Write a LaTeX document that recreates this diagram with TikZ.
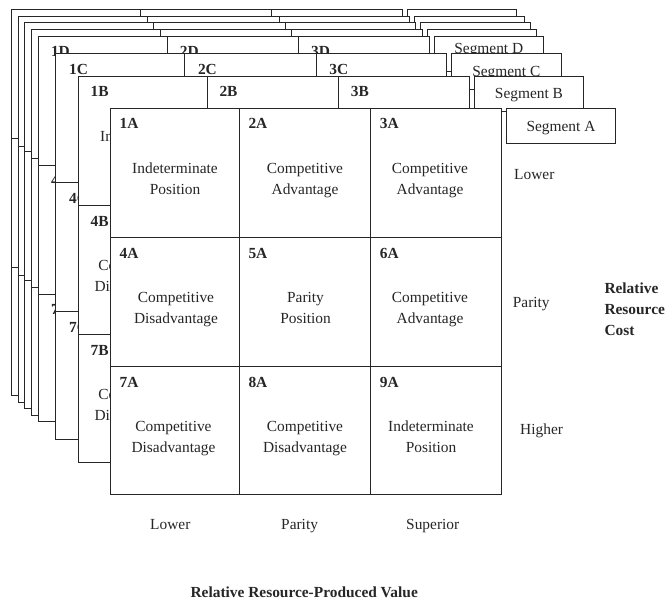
\documentclass[tikz,border=0pt]{standalone}
\usepackage{fontspec}
\setmainfont{Liberation Serif}
\usetikzlibrary{positioning}
\definecolor{sheetInk}{RGB}{38,38,38}
\newcommand{\sheetfont}{\fontsize{15.4}{21}\selectfont}
\tikzset{
  sheetline/.style={draw=sheetInk, line width=1pt},
  celltag/.style={font=\sheetfont\bfseries, text=sheetInk, anchor=base west, inner sep=0pt},
  celltext/.style={font=\sheetfont, text=sheetInk, align=center, anchor=base, inner sep=0pt},
  segtext/.style={font=\sheetfont, text=sheetInk, anchor=base, inner sep=0pt},
  axislabel/.style={font=\sheetfont, text=sheetInk, anchor=base west, inner sep=0pt},
  axistitle/.style={font=\sheetfont\bfseries, text=sheetInk, align=left, anchor=base west, inner sep=0pt}
}

\begin{document}
\begin{tikzpicture}[x=1pt, y=-1pt]
\useasboundingbox (0,0) rectangle (665,599);
% blank sheets at the back of the stack
\foreach \d in {98.8,91.6,85.7,79}
{
\begin{scope}[shift={(-\d,-\d)}]
\filldraw[sheetline, fill=white] (506.3,108.3) rectangle (615.7,144);
\filldraw[sheetline, fill=white] (110.5,108.3) rectangle (501.5,494);
\draw[sheetline] (239.3,108.3) -- (239.3,494) (370.7,108.3) -- (370.7,494)
  (110.5,237.7) -- (501.5,237.7) (110.5,366.7) -- (501.5,366.7);
\end{scope}
}
% segments D, C and B (only the cells that stay in sight are labelled)
\foreach \d/\s/\tagx/\segy/\lx in {72.2/D/12.5/17.5/0,54.7/C/13.2/23/0,32/B/12/22/-6.5}
{
\begin{scope}[shift={(-\d,-\d)}]
\filldraw[sheetline, fill=white] (506.3,108.3) rectangle (615.7,144);
\node[segtext] (seg\s) at (561,108.3+\segy) {Segment \s};
\filldraw[sheetline, fill=white] (110.5,108.3) rectangle (501.5,494);
\draw[sheetline] (239.3,108.3) -- (239.3,494) (370.7,108.3) -- (370.7,494)
  (110.5,237.7) -- (501.5,237.7) (110.5,366.7) -- (501.5,366.7);
\foreach \n/\cx/\cy in {1/110.5/108.3,2/239.3/108.3,3/370.7/108.3,4/110.5/237.7,7/110.5/366.7}
  \node[celltag] (tag\n\s) at (\cx+\tagx,\cy+20.5) {\n\s};
\ifdim\d pt<40pt
\foreach \n/\cy/\rs/\words in {1/108.3/0/{Indeterminate\\Position},4/237.7/1/{Competitive\\Disadvantage},7/366.7/1/{Competitive\\Disadvantage}}
  \node[celltext] (txt\n\s) at (175+\rs*\lx,\cy+86) {\words};
\fi
\end{scope}
}
% segment A in front
\filldraw[sheetline, fill=white] (506.3,108.3) rectangle (615.7,144);
\node[segtext] (segA) at (561,131.3) {Segment A};
\filldraw[sheetline, fill=white] (110.5,108.3) rectangle (501.5,494);
\draw[sheetline] (239.3,108.3) -- (239.3,494) (370.7,108.3) -- (370.7,494)
  (110.5,237.7) -- (501.5,237.7) (110.5,366.7) -- (501.5,366.7);
% cell tags and texts, texts anchored on the baseline of the second line
\foreach \n/\cx/\cy/\tx/\words in {1/110.5/108.3/175/{Indeterminate\\Position},2/239.3/108.3/305/{Competitive\\Advantage},3/370.7/108.3/430/{Competitive\\Advantage},4/110.5/237.7/176/{Competitive\\Disadvantage},5/239.3/237.7/305.5/{Parity\\Position},6/370.7/237.7/430/{Competitive\\Advantage},7/110.5/366.7/173.5/{Competitive\\Disadvantage},8/239.3/366.7/305/{Competitive\\Disadvantage},9/370.7/366.7/431/{Indeterminate\\Position}}
{
\node[celltag] (tag\n A) at (\cx+9,\cy+20.5) {\n A};
\node[celltext] (txt\n A) at (\tx,\cy+86) {\words};
}
% row and column scales
\node[axislabel] (costLow) at (514,179.3) {Lower};
\node[axislabel] (costPar) at (512.7,307.5) {Parity};
\node[axislabel] (costHigh) at (520,434.3) {Higher};
\node[axistitle] (costTitle) at (604.3,335) {Relative\\Resource\\Cost};
\node[axislabel] (valLow) at (150,529) {Lower};
\node[axislabel] (valPar) at (281,529) {Parity};
\node[axislabel] (valSup) at (406,529) {Superior};
\node[axistitle, anchor=base] (valTitle) at (304.2,597) {Relative Resource-Produced Value};
\end{tikzpicture}
\end{document}
